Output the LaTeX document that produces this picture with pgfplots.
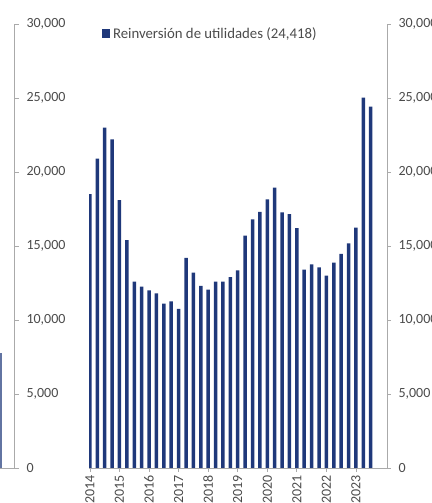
\documentclass[border=0pt]{standalone}
\usepackage{pgfplots}
\pgfplotsset{compat=1.18}
\usepackage{fontspec}
\setmainfont{Carlito}
\definecolor{navy}{RGB}{31,56,122}
\definecolor{axgray}{RGB}{170,170,170}
\definecolor{txtgray}{RGB}{75,75,75}
\begin{document}
\begin{tikzpicture}
\useasboundingbox (0,0) rectangle (432bp,503bp);
\pgfplotsset{
  common/.style={
    scale only axis,
    height=444bp,
    ymin=0, ymax=30000,
    ytick={0,5000,10000,15000,20000,25000,30000},
    scaled y ticks=false,
    /pgf/number format/assume math mode=true,
    /pgf/number format/1000 sep={,},
    axis y line=right,
    axis x line=bottom,
    axis line style={-,draw=axgray,line width=0.8bp},
    tick style={draw=axgray,line width=0.8bp},
    tick align=outside,
    major tick length=5bp,
    ticklabel style={font=\fontsize{14bp}{16bp}\selectfont, text=txtgray},
    y tick label style={xshift=4bp},
    ybar, bar width=3.5bp,
  }
}
% cropped neighbouring chart on the left
\begin{axis}[common,
  at={(14bp,35bp)}, anchor=south east,
  width=100bp,
  xmin=0, xmax=10,
  xtick=\empty,
]
\addplot[fill=navy!70, draw=none, bar width=2.6bp] coordinates {(8.7,7770)};
\end{axis}
% main chart
\begin{axis}[common,
  at={(89.2bp,35bp)}, anchor=south west,
  width=297.8bp,
  xmin=-0.1, xmax=40.2,
  xtick={0,4,8,12,16,20,24,28,32,36},
  xticklabels={2014,2015,2016,2017,2018,2019,2020,2021,2022,2023},
  major tick length=4bp,
  x tick label style={rotate=90, anchor=east},
  legend style={at={(rel axis cs:0.043,0.9775)}, anchor=west,
    draw=none, fill=none, inner sep=0pt, outer sep=0pt,
    column sep=3bp,
    nodes={inner sep=0pt, font=\fontsize{14.8bp}{17bp}\selectfont, text=txtgray}},
  legend image code/.code={\fill[navy] (0bp,-4.5bp) rectangle (8bp,4.5bp);},
]
\addplot[fill=navy, draw=none] table[x=i,y=v] {
i v
0 18500
1 20900
2 23000
3 22200
4 18100
5 15400
6 12600
7 12250
8 12000
9 11800
10 11100
11 11250
12 10750
13 14200
14 13200
15 12300
16 12050
17 12600
18 12600
19 12900
20 13350
21 15700
22 16800
23 17300
24 18150
25 18950
26 17270
27 17150
28 16200
29 13400
30 13750
31 13550
32 13000
33 13870
34 14460
35 15180
36 16240
37 25020
38 24418
};
\addlegendentry{Reinversión de utilidades (24,418)}
\end{axis}
\end{tikzpicture}
\end{document}
